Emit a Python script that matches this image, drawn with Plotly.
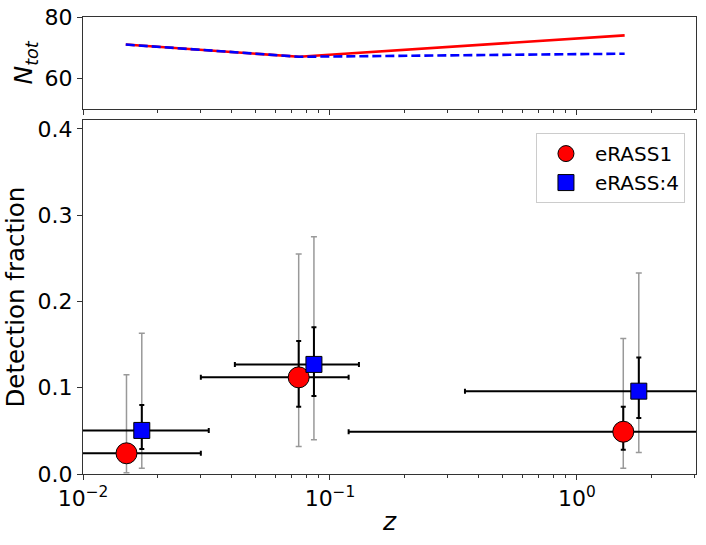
import numpy as np
import plotly.graph_objects as go
from plotly.subplots import make_subplots

# top panel: total number of objects per redshift bin
ntot_z = [0.0149, 0.075, 1.56]
ntot_erass1 = [71, 67, 74]
ntot_erass4 = [71, 67, 68]

# eRASS1 detection fractions
e1_z = [0.0150, 0.0747, 1.54]
e1_z_lo = [0.006, 0.030, 0.119]
e1_z_hi = [0.030, 0.119, 5.0]
e1_frac = [0.024, 0.112, 0.049]
e1_lo = [0.015, 0.078, 0.028]
e1_hi = [0.033, 0.154, 0.078]
e1_wide_lo = [0.0015, 0.032, 0.0066]
e1_wide_hi = [0.115, 0.255, 0.157]

# eRASS:4 detection fractions
e4_z = [0.0173, 0.0861, 1.78]
e4_z_lo = [0.006, 0.0412, 0.352]
e4_z_hi = [0.0323, 0.131, 5.0]
e4_frac = [0.0505, 0.127, 0.096]
e4_lo = [0.029, 0.0905, 0.065]
e4_hi = [0.080, 0.170, 0.135]
e4_wide_lo = [0.0066, 0.0396, 0.0248]
e4_wide_hi = [0.163, 0.275, 0.233]

major_ticks = [0.01, 0.1, 1]
major_labels = ["10<sup>\u22122</sup>", "10<sup>\u22121</sup>", "10<sup>0</sup>"]
minor_ticks = [m * d for d in (0.01, 0.1, 1) for m in range(2, 10)]

FONT = "DejaVu Sans"


def minus(a, b):
    return list(np.array(a) - np.array(b))


fig = make_subplots(rows=2, cols=1, row_heights=[0.206, 0.794],
                    vertical_spacing=0.025)

fig.add_trace(go.Scatter(x=ntot_z, y=ntot_erass1, mode="lines",
                         line=dict(color="red", width=2.6),
                         showlegend=False), row=1, col=1)
fig.add_trace(go.Scatter(x=ntot_z, y=ntot_erass4, mode="lines",
                         line=dict(color="blue", width=2.6, dash="9px,4px"),
                         showlegend=False), row=1, col=1)

# wide (grey) confidence intervals
for z, f, lo, hi in [(e1_z, e1_frac, e1_wide_lo, e1_wide_hi),
                     (e4_z, e4_frac, e4_wide_lo, e4_wide_hi)]:
    fig.add_trace(go.Scatter(
        x=z, y=f, mode="markers",
        marker=dict(size=1, color="rgba(0,0,0,0)"),
        error_y=dict(type="data", symmetric=False,
                     array=minus(hi, f), arrayminus=minus(f, lo),
                     color="#999999", thickness=1.5, width=3),
        showlegend=False, hoverinfo="skip"), row=2, col=1)

fig.add_trace(go.Scatter(
    x=e1_z, y=e1_frac, mode="markers", name="eRASS1",
    marker=dict(symbol="circle", size=21, color="red",
                line=dict(color="black", width=1)),
    error_x=dict(type="data", symmetric=False,
                 array=minus(e1_z_hi, e1_z), arrayminus=minus(e1_z, e1_z_lo),
                 color="black", thickness=2, width=2.5),
    error_y=dict(type="data", symmetric=False,
                 array=minus(e1_hi, e1_frac), arrayminus=minus(e1_frac, e1_lo),
                 color="black", thickness=2, width=2.5)), row=2, col=1)

fig.add_trace(go.Scatter(
    x=e4_z, y=e4_frac, mode="markers", name="eRASS:4",
    marker=dict(symbol="square", size=16, color="blue",
                line=dict(color="black", width=1)),
    error_x=dict(type="data", symmetric=False,
                 array=minus(e4_z_hi, e4_z), arrayminus=minus(e4_z, e4_z_lo),
                 color="black", thickness=2, width=2.5),
    error_y=dict(type="data", symmetric=False,
                 array=minus(e4_hi, e4_frac), arrayminus=minus(e4_frac, e4_lo),
                 color="black", thickness=2, width=2.5)), row=2, col=1)

axis_common = dict(showline=True, linecolor="#333333", linewidth=1,
                   mirror=True, ticks="outside", ticklen=5, tickwidth=1,
                   tickcolor="#333333", showgrid=False, zeroline=False,
                   automargin=False,
                   tickfont=dict(family=FONT, size=22, color="black"))

for r in (1, 2):
    fig.update_xaxes(type="log", range=[-2, 0.482],
                     tickvals=major_ticks, ticktext=major_labels,
                     minor=dict(tickvals=minor_ticks, ticks="outside",
                                ticklen=3, tickcolor="#333333"),
                     row=r, col=1, **axis_common)

fig.update_xaxes(showticklabels=False, row=1, col=1)
fig.update_xaxes(title=dict(text="<i>z</i>", standoff=2,
                            font=dict(family=FONT, size=25, color="black")),
                 row=2, col=1)

fig.update_yaxes(range=[50, 80], tickvals=[60, 80],
                 title=dict(text="<i>N<sub>tot</sub></i>", standoff=4,
                            font=dict(family=FONT, size=25, color="black")),
                 row=1, col=1, **axis_common)
fig.update_yaxes(range=[0, 0.41], dtick=0.1, tickformat=".1f",
                 title=dict(text="Detection fraction", standoff=6,
                            font=dict(family=FONT, size=24.5, color="black")),
                 row=2, col=1, **axis_common)

fig.update_layout(
    width=706, height=545,
    margin=dict(l=83, r=10, t=17, b=71),
    plot_bgcolor="white", paper_bgcolor="white",
    font=dict(family=FONT, color="black"),
    legend=dict(x=0.982, y=0.746, xanchor="right", yanchor="top",
                bgcolor="white", bordercolor="#cccccc", borderwidth=1,
                itemsizing="trace", itemwidth=48,
                font=dict(family=FONT, size=20, color="black")),
)

# drop the browser's default page margin so the figure sits at (0, 0)
fig.write_html("out.html", config={"displayModeBar": False},
               post_script="document.body.style.margin='0';")
